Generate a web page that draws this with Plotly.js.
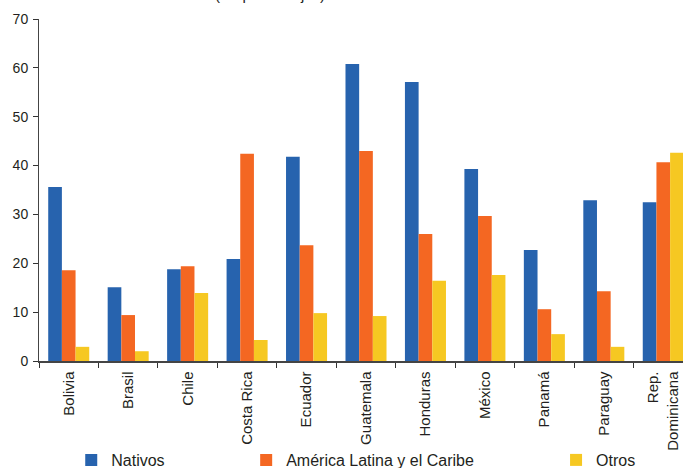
<!DOCTYPE html>
<html><head><meta charset="utf-8">
<script src="https://cdn.plot.ly/plotly-3.0.1.min.js"></script>
<style>html,body{margin:0;padding:0;overflow:hidden;background:#fff}#chart{width:693px;height:468px}</style>
</head><body><div id="chart"></div>
<script>
const categories = ["Bolivia","Brasil","Chile","Costa Rica","Ecuador","Guatemala","Honduras","México","Panamá","Paraguay","Rep.<br>Dominicana"];
const nativos = [35.6,15.1,18.8,20.9,41.8,60.8,57.1,39.3,22.7,32.9,32.5];
const americaLatina = [18.6,9.4,19.4,42.4,23.7,43.0,26.0,29.7,10.6,14.3,40.7];
const otros = [2.9,2.0,13.9,4.3,9.8,9.2,16.4,17.6,5.5,2.9,42.6];
const seriesNames = ["Nativos","América Latina y el Caribe","Otros"];
const yTicks = [0,10,20,30,40,50,60,70];
const colors = ["#2763ae","#f46722","#f6c822"];
const font = "Liberation Sans, Arial, sans-serif";

const W = 693, H = 468, L = 38.75, T = 19, B = 107;
const pw = W - L, ph = H - T - B;
const px = v => (v - L) / pw;
const py = v => (H - B - v) / ph;

const traces = [nativos, americaLatina, otros].map((vals, i) => ({
  type: "bar", x: categories, y: vals, name: seriesNames[i],
  marker: {color: colors[i], line: {width: 0}},
  legend: i === 0 ? "legend" : "legend" + (i + 1),
  hoverinfo: "x+y+name"
}));

const legendBase = {orientation: "h", yanchor: "middle", xanchor: "left", y: py(460),
  font: {family: font, size: 16, color: "#231f20"}, bgcolor: "rgba(0,0,0,0)", borderwidth: 0, itemwidth: 30};

const layout = {
  width: W, height: H,
  margin: {l: L, r: 0, t: T, b: B, pad: 0, autoexpand: false},
  paper_bgcolor: "#fff", plot_bgcolor: "#fff",
  barmode: "group", bargap: 0.31, bargroupgap: 0,
  showlegend: true,
  legend: Object.assign({}, legendBase, {x: px(71)}),
  legend2: Object.assign({}, legendBase, {x: px(246)}),
  legend3: Object.assign({}, legendBase, {x: px(556)}),
  xaxis: {
    type: "category", tickson: "boundaries", ticks: "outside", ticklen: 5, tickcolor: "#333", tickwidth: 1,
    showline: true, linecolor: "#444", linewidth: 1.5, showgrid: false, zeroline: false, automargin: false,
    tickangle: -90, tickfont: {family: font, size: 15, color: "#231f20"}, ticklabelstandoff: 3, fixedrange: true
  },
  yaxis: {
    range: [0, 70], tickvals: yTicks, ticktext: yTicks.map(String), ticks: "outside", ticklen: 5, tickcolor: "#333",
    showline: true, linecolor: "#444", linewidth: 1, showgrid: false, zeroline: false, automargin: false,
    tickfont: {family: font, size: 14, color: "#231f20"}, ticklabelstandoff: 2, fixedrange: true
  },
  annotations: [{
    text: "(En porcentajes)", xref: "paper", yref: "paper", x: px(270), y: 1, xanchor: "center", yanchor: "bottom",
    yshift: 14, showarrow: false, font: {family: font, size: 15, color: "#231f20"}
  }]
};

Plotly.newPlot("chart", traces, layout, {displayModeBar: false, staticPlot: true});
</script></body></html>
